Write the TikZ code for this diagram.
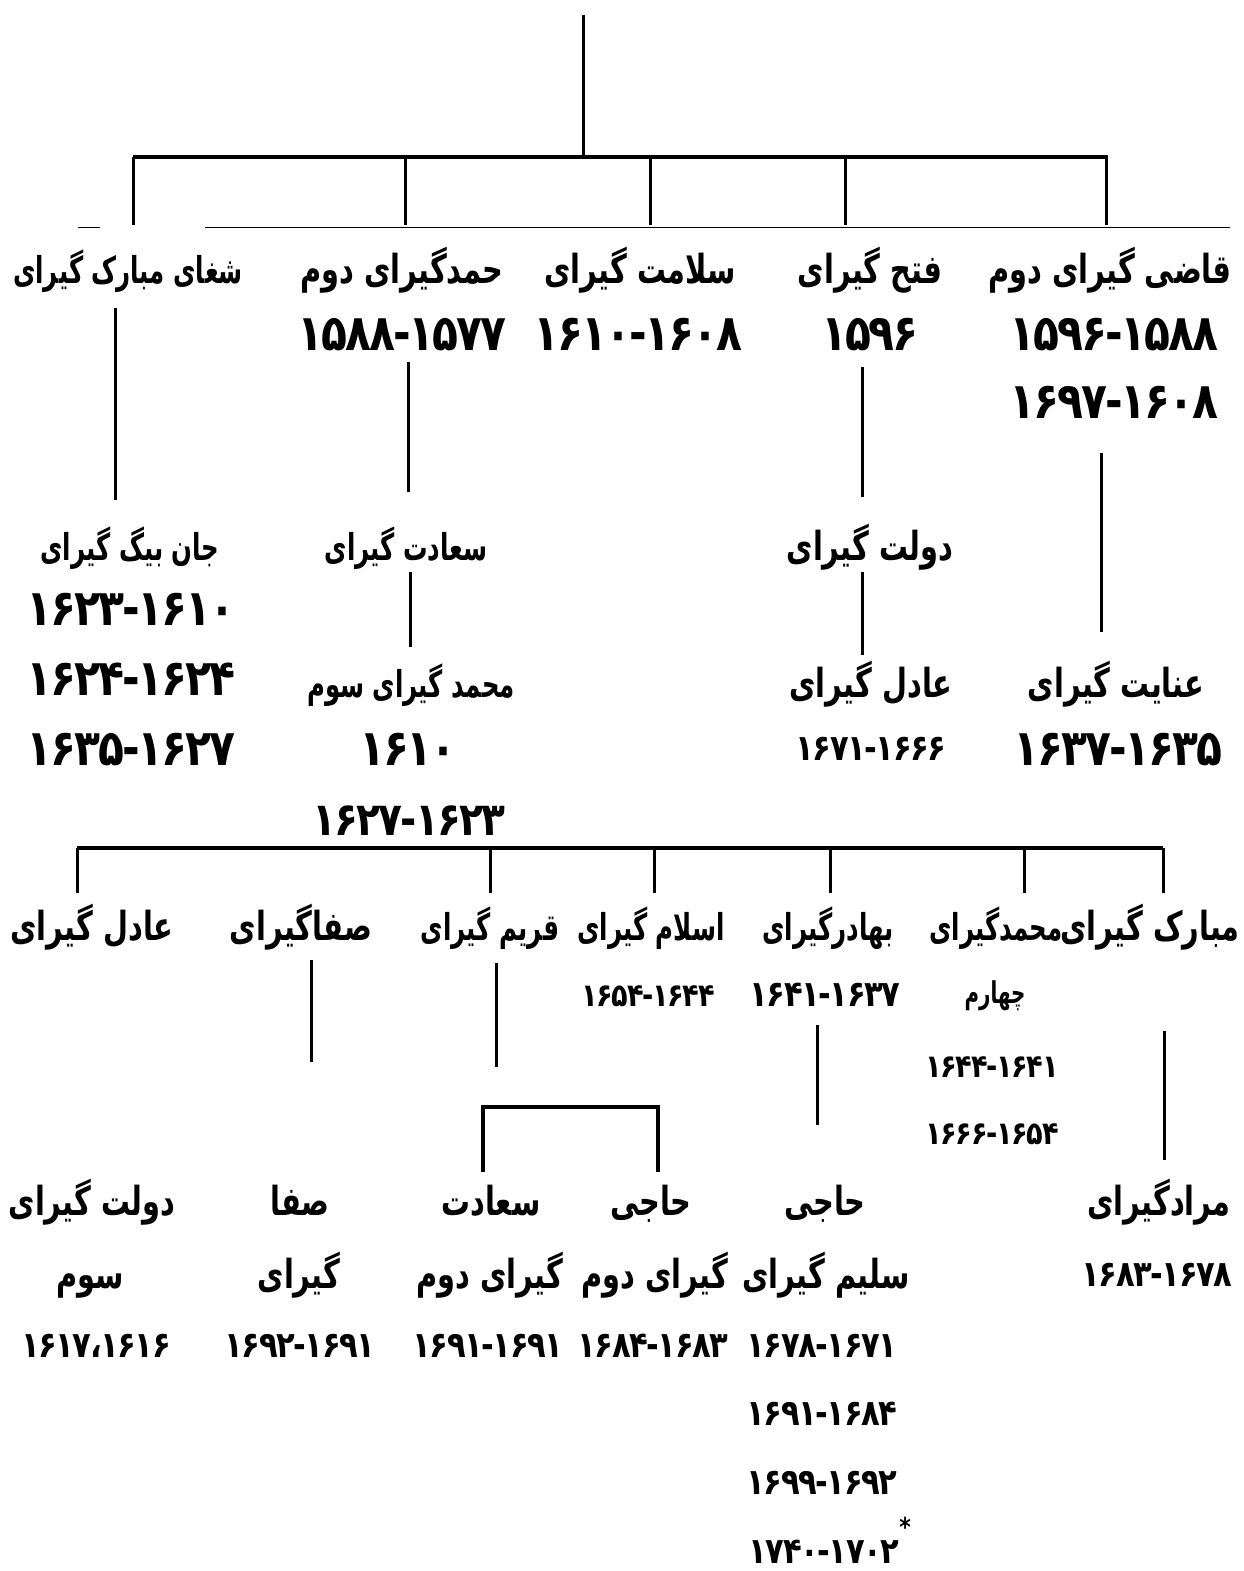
\documentclass[tikz,border=0pt]{standalone}
\usepackage{fontspec}
\usetikzlibrary{calc}
\TeXXeTstate=1
\newfontfamily\arabicfont[Script=Arabic,FakeStretch=0.72]{DejaVu Sans}
\newfontfamily\narrowfont[Script=Arabic,FakeStretch=0.66]{DejaVu Sans}
\newfontfamily\digitfont[FakeStretch=0.85,LetterSpace=-4]{DejaVu Sans}

\tikzset{
    khan/.style={font=\arabicfont\bfseries\fontsize{40}{46}\selectfont, anchor=base, inner sep=0pt},
    khannarrow/.style={font=\narrowfont\bfseries\fontsize{37}{42}\selectfont, anchor=base, inner sep=0pt},
    khansmall/.style={font=\narrowfont\bfseries\fontsize{30}{34}\selectfont, anchor=base, inner sep=0pt},
    bigdates/.style={font=\digitfont\bfseries\fontsize{50}{54}\selectfont, anchor=base, inner sep=0pt},
    middates/.style={font=\digitfont\bfseries\fontsize{46}{50}\selectfont, anchor=base, inner sep=0pt},
    smalldates/.style={font=\digitfont\bfseries\fontsize{36}{40}\selectfont, anchor=base, inner sep=0pt},
    tinydates/.style={font=\digitfont\bfseries\fontsize{32}{36}\selectfont, anchor=base, inner sep=0pt},
    link/.style={line width=3pt},
    bar/.style={line width=4.5pt},
    rule/.style={line width=0.9pt}
}

\begin{document}
\begin{tikzpicture}[x=1pt,y=-1pt]
    \useasboundingbox (0,0) rectangle (1243,1571);

    % first generation: the stem and its bar
    \coordinate (stem) at (583,15);
    \coordinate (stemfoot) at (583,157);
    \coordinate (barL) at (133,157);
    \coordinate (barR) at (1108,157);
    \draw[link] (stem) -- (stemfoot);
    \draw[bar] (barL) -- (barR);
    \foreach \x in {133,405,650,845,1106}
        \draw[link] (\x,157) -- (\x,225);
    \coordinate (ruleA) at (78,227);
    \coordinate (ruleB) at (100,227);
    \coordinate (ruleC) at (205,227);
    \coordinate (ruleD) at (1230,227);
    \draw[rule] (ruleA) -- (ruleB);
    \draw[rule] (ruleC) -- (ruleD);

    % sons named on the first bar
    \node[khan] (qazi) at (1110,283) {\beginR قاضی گیرای دوم\endR};
    \node[bigdates] (qaziA) at (1114,350) {۱۵۹۶-۱۵۸۸};
    \node[bigdates] (qaziB) at (1114,418) {۱۶۹۷-۱۶۰۸};
    \node[khan] (fath) at (870,283) {\beginR فتح گیرای\endR};
    \node[bigdates] (fathA) at (870,350) {۱۵۹۶};
    \node[khan] (salamat) at (640,283) {\beginR سلامت گیرای\endR};
    \node[bigdates] (salamatA) at (638,350) {۱۶۱۰-۱۶۰۸};
    \node[khan] (hamd) at (402,283) {\beginR حمدگیرای دوم\endR};
    \node[bigdates] (hamdA) at (402,350) {۱۵۸۸-۱۵۷۷};
    \node[khannarrow] (shagha) at (128,283) {\beginR شغای مبارک گیرای\endR};

    % second generation
    \node[khannarrow] (janbeg) at (130,560) {\beginR جان بیگ گیرای\endR};
    \node[bigdates] (janbegA) at (131,625) {۱۶۲۳-۱۶۱۰};
    \node[bigdates] (janbegB) at (131,695) {۱۶۲۴-۱۶۲۴};
    \node[bigdates] (janbegC) at (131,765) {۱۶۳۵-۱۶۲۷};
    \node[khannarrow] (saadat) at (406,560) {\beginR سعادت گیرای\endR};
    \node[khannarrow] (mehmedIII) at (411,697) {\beginR محمد گیرای سوم\endR};
    \node[bigdates] (mehmedIIIA) at (408,765) {۱۶۱۰};
    \node[middates] (mehmedIIIB) at (409,835) {۱۶۲۷-۱۶۲۳};
    \node[khan] (devlet) at (870,560) {\beginR دولت گیرای\endR};
    \node[khan] (adil) at (871,697) {\beginR عادل گیرای\endR};
    \node[smalldates] (adilA) at (871,760) {۱۶۷۱-۱۶۶۶};
    \node[khan] (inayat) at (1116,697) {\beginR عنایت گیرای\endR};
    \node[bigdates] (inayatA) at (1118,765) {۱۶۳۷-۱۶۳۵};

    % descent lines between the upper generations
    \coordinate (shaghaD) at (115,308);  \coordinate (janbegU) at (115,500);
    \coordinate (hamdD) at (408,362);    \coordinate (saadatU) at (408,492);
    \coordinate (fathD) at (862,367);    \coordinate (devletU) at (862,497);
    \coordinate (qaziD) at (1101,453);   \coordinate (inayatU) at (1101,632);
    \coordinate (saadatD) at (410,572);  \coordinate (mehmedIIIU) at (410,647);
    \coordinate (devletD) at (862,572);  \coordinate (adilU) at (862,655);
    \draw[link] (shaghaD) -- (janbegU);
    \draw[link] (hamdD) -- (saadatU);
    \draw[link] (fathD) -- (devletU);
    \draw[link] (qaziD) -- (inayatU);
    \draw[link] (saadatD) -- (mehmedIIIU);
    \draw[link] (devletD) -- (adilU);

    % third generation: the lower bar
    \coordinate (lowL) at (77,848);
    \coordinate (lowR) at (1163,848);
    \draw[bar] (lowL) -- (lowR);
    \foreach \x in {77,490,654,830,1024,1163}
        \draw[link] (\x,848) -- (\x,893);

    \node[khan] (adilII) at (92,940) {\beginR عادل گیرای\endR};
    \node[khan] (safa) at (301,940) {\beginR صفاگیرای\endR};
    \node[khannarrow] (qirim) at (490,940) {\beginR قریم گیرای\endR};
    \node[khannarrow] (islam) at (651,940) {\beginR اسلام گیرای\endR};
    \node[tinydates] (islamA) at (648,1006) {۱۶۵۴-۱۶۴۴};
    \node[khannarrow] (bahadir) at (828,940) {\beginR بهادرگیرای\endR};
    \node[smalldates] (bahadirA) at (825,1006) {۱۶۴۱-۱۶۳۷};
    \node[khannarrow] (mehmedIV) at (996,940) {\beginR محمدگیرای\endR};
    \node[khansmall] (mehmedIVb) at (995,1003) {\beginR چهارم\endR};
    \node[tinydates] (mehmedIVA) at (992,1077) {۱۶۴۴-۱۶۴۱};
    \node[tinydates] (mehmedIVB) at (992,1144) {۱۶۶۶-۱۶۵۴};
    \node[khan] (mubarak) at (1150,940) {\beginR مبارک گیرای\endR};

    % descent lines to the last generation
    \coordinate (safaD) at (311,960);     \coordinate (safaIIU) at (311,1062);
    \coordinate (qirimD) at (496,963);    \coordinate (qirimU) at (496,1067);
    \coordinate (bahadirD) at (817,1025); \coordinate (selimU) at (817,1125);
    \coordinate (mubarakD) at (1164,1031); \coordinate (muradU) at (1164,1160);
    \draw[link] (safaD) -- (safaIIU);
    \draw[link] (qirimD) -- (qirimU);
    \draw[link] (bahadirD) -- (selimU);
    \draw[link] (mubarakD) -- (muradU);

    % bracket over the two sons
    \coordinate (brL) at (483,1172);
    \coordinate (brR) at (658,1172);
    \draw[bar] (brL) |- ($(brL)!0.5!(brR)+(0,-65)$) -| (brR);

    % fourth generation
    \node[khan] (devletIII) at (92,1215) {\beginR دولت گیرای\endR};
    \node[khan] (devletIIIb) at (90,1288) {\beginR سوم\endR};
    \node[smalldates] (devletIIIA) at (96,1357) {۱۶۱۷،۱۶۱۶};
    \node[khan] (safaII) at (300,1215) {\beginR صفا\endR};
    \node[khan] (safaIIb) at (299,1288) {\beginR گیرای\endR};
    \node[smalldates] (safaIIA) at (300,1357) {۱۶۹۲-۱۶۹۱};
    \node[khan] (saadatII) at (491,1215) {\beginR سعادت\endR};
    \node[khan] (saadatIIb) at (490,1288) {\beginR گیرای دوم\endR};
    \node[smalldates] (saadatIIA) at (488,1357) {۱۶۹۱-۱۶۹۱};
    \node[khan] (haji) at (651,1215) {\beginR حاجی\endR};
    \node[khan] (hajib) at (655,1288) {\beginR گیرای دوم\endR};
    \node[smalldates] (hajiA) at (653,1357) {۱۶۸۴-۱۶۸۳};
    \node[khan] (selim) at (825,1215) {\beginR حاجی\endR};
    \node[khan] (selimb) at (826,1288) {\beginR سلیم گیرای\endR};
    \node[smalldates] (selimA) at (822,1357) {۱۶۷۸-۱۶۷۱};
    \node[smalldates] (selimB) at (822,1425) {۱۶۹۱-۱۶۸۴};
    \node[smalldates] (selimC) at (822,1494) {۱۶۹۹-۱۶۹۲};
    \node[smalldates] (selimD) at (824,1563) {۱۷۴۰-۱۷۰۲\rlap{\raisebox{0.75em}{\fontsize{26}{26}\selectfont*}}};
    \node[khan] (murad) at (1159,1215) {\beginR مرادگیرای\endR};
    \node[smalldates] (muradA) at (1157,1286) {۱۶۸۳-۱۶۷۸};
\end{tikzpicture}
\end{document}
